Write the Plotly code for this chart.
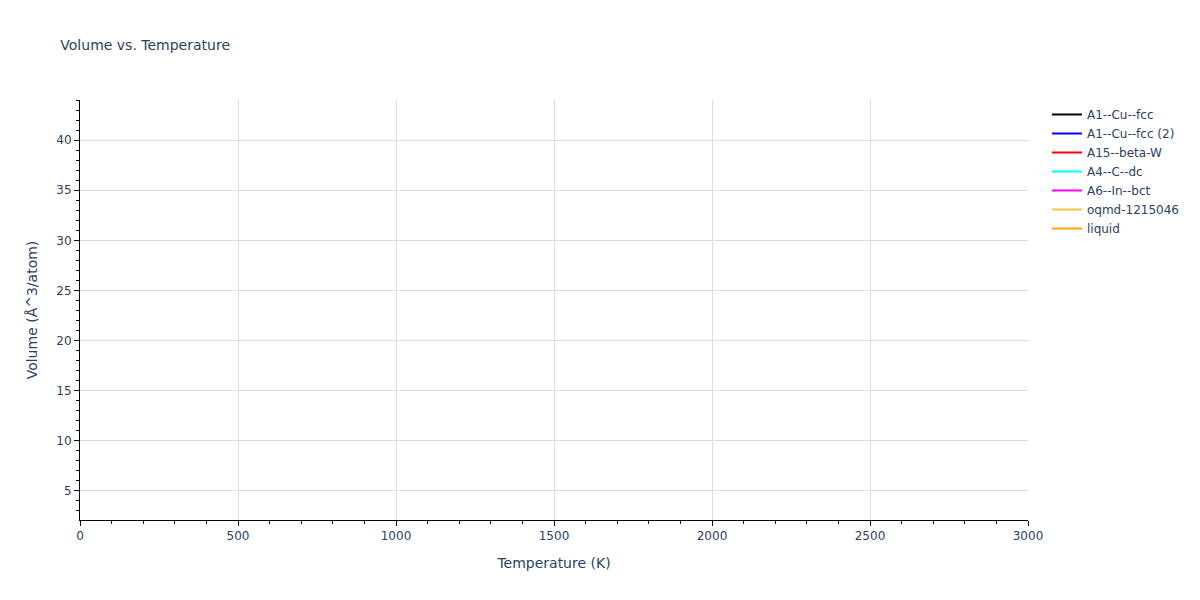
import plotly.graph_objects as go

# phase names and line colours from the legend
phases = ['A1--Cu--fcc', 'A1--Cu--fcc (2)', 'A15--beta-W', 'A4--C--dc',
          'A6--In--bct', 'oqmd-1215046', 'liquid']
colors = ['black', 'blue', 'red', 'cyan', 'magenta', '#F2C53D', 'orange']

# no curve is visible inside the plotted window: one missing point per series
temperature = {p: [None] for p in phases}
volume = {p: [None] for p in phases}

fig = go.Figure()
for name, c in zip(phases, colors):
    fig.add_trace(go.Scatter(x=temperature[name], y=volume[name], mode='lines',
                             name=name, showlegend=True,
                             line=dict(color=c, width=2)))

axis_style = dict(showline=True, linecolor='black', linewidth=1, ticks='outside',
                  ticklen=5, tickcolor='black', gridcolor='#DDDDDD', zeroline=False,
                  title_font=dict(size=14))

fig.update_layout(
    title=dict(text='Volume vs. Temperature', font=dict(size=14),
               x=0.044, y=0.9375, yanchor='middle'),
    template='plotly_white',
    font=dict(family='Verdana, DejaVu Sans', size=12, color='#2a3f5f'),
    # page body adds 8px, so shrink the figure and pull the plot up and left
    width=1189, height=592,
    showlegend=True,
    margin=dict(l=72, r=80, t=92, b=80),
    xaxis=dict(title='Temperature (K)', range=[0, 3000], dtick=500,
               minor=dict(ticks='outside', dtick=100, ticklen=3, tickcolor='black'),
               **axis_style),
    yaxis=dict(title='Volume (Å^3/atom)', range=[2.1, 44], dtick=5,
               minor=dict(ticks='outside', dtick=1, ticklen=3, tickcolor='black'),
               **axis_style),
)

fig.write_html("out.html")
